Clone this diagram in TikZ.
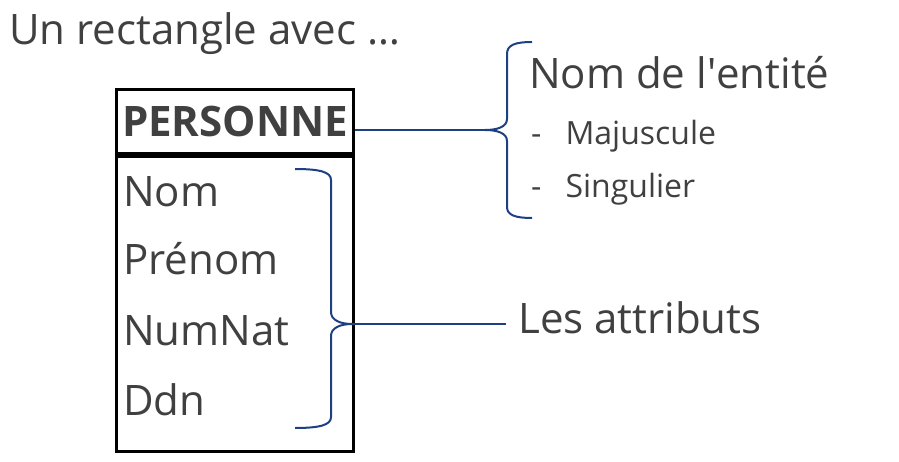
\documentclass[tikz,border=0pt]{standalone}
\usepackage{fontspec}
\setmainfont{Open Sans}
\usetikzlibrary{calc, positioning}
\definecolor{txtgray}{RGB}{64,64,64}
\definecolor{bracecol}{RGB}{28,64,130}

\begin{document}
\begin{tikzpicture}[x=1pt,y=-1pt,inner sep=0pt,
  lbl/.style={text=txtgray,anchor=base west,font=\fontsize{42}{50}\selectfont},
  sublbl/.style={text=txtgray,anchor=base west,font=\fontsize{32}{38}\selectfont},
  brc/.style={draw=bracecol,line width=2pt}]
\useasboundingbox (0,0) rectangle (899,462);
\node [lbl] (titre) at (9,45) {Un rectangle avec …};
% l'entite
\node [draw,line width=3pt,minimum width=237,minimum height=64,anchor=north west,
       text=txtgray,font=\fontsize{42}{50}\selectfont\bfseries] (tete) at (115,88) {PERSONNE};
\node [draw,line width=3pt,minimum width=237,minimum height=295,anchor=north] (corps) at (tete.south) {};
\node [lbl] (nom)    at (123,207) {Nom};
\node [lbl] (prenom) at (123,274) {Prénom};
\node [lbl] (numnat) at (123,345) {NumNat};
\node [lbl] (ddn)    at (123,415) {Ddn};
% legendes
\node [lbl] (entite) at (529,89) {Nom de l\textquotesingle entité};
\node [sublbl] (maj) at (531,145) {-\hspace{24pt}Majuscule};
\node [sublbl] (sing) at (531,198) {-\hspace{24pt}Singulier};
\node [lbl] (attr) at (518,333) {Les attributs};
% accolades
\coordinate (enttip) at (485,130);
\coordinate (attrtip) at (352,324);
\draw [brc] (532,42) .. controls (515,42) and (507,45) .. (507,54) -- (507,119)
      .. controls (507,127) and (497,130) .. (enttip)
      .. controls (497,130) and (507,133) .. (507,141) -- (507,207)
      .. controls (507,215) and (515,218) .. (532,218);
\draw [brc] (enttip -| tete.east) -- (enttip);
\draw [brc] (295,169) .. controls (320,169) and (331,172) .. (331,180) -- (331,312)
      .. controls (331,320) and (340,324) .. (attrtip)
      .. controls (340,324) and (331,328) .. (331,336) -- (331,417)
      .. controls (331,425) and (320,428) .. (295,428);
\draw [brc,shorten >=12pt] (attrtip) -- (attrtip -| attr.west);
\end{tikzpicture}
\end{document}
